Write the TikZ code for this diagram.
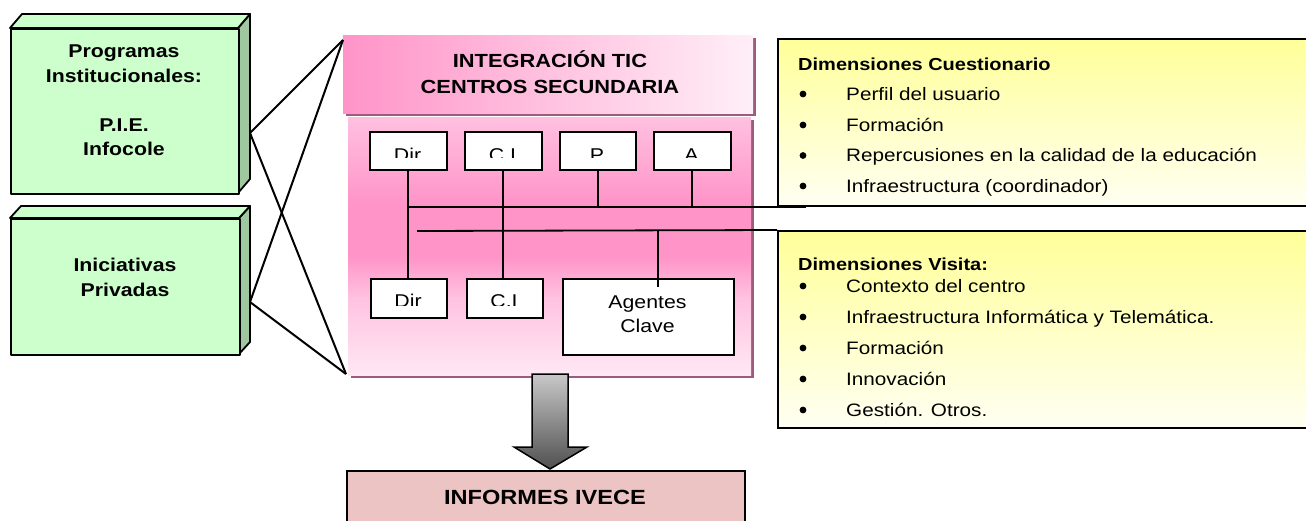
\documentclass[tikz,border=0pt]{standalone}
\usepackage{fontspec}
\setmainfont{Liberation Sans}[FakeStretch=1.15]
\definecolor{greenfront}{HTML}{CCFFCC}
\definecolor{greenside}{HTML}{A0C8A0}
\definecolor{pinkstrong}{HTML}{FF94C8}
\definecolor{pinklight}{HTML}{FFE8F4}
\definecolor{pinkmid}{HTML}{FFC0E0}
\definecolor{mauve}{HTML}{9C5C80}
\definecolor{yellowtop}{HTML}{FFFF99}
\definecolor{yellowbot}{HTML}{FFFFF2}
\definecolor{informes}{HTML}{ECC4C4}
\definecolor{arrowtop}{HTML}{C8C8C8}
\definecolor{arrowbot}{HTML}{505050}
\pgfdeclareverticalshading{pinkmainshade}{100bp}{color(0bp)=(pinklight); color(25bp)=(pinklight); color(40bp)=(pinkstrong!45!pinklight); color(48bp)=(pinkstrong); color(58bp)=(pinkstrong); color(75bp)=(pinkmid); color(100bp)=(pinkmid)}
\tikzset{
  gface/.style={fill=greenfront,draw=black,line width=1.8pt,line join=round},
  gside/.style={fill=greenside,draw=black,line width=1.8pt,line join=round},
  gtext/.style={font=\bfseries\fontsize{18.5}{24.5}\selectfont,align=center,anchor=base,inner sep=0pt},
  sbox/.style={draw=black,fill=white,line width=1.6pt,anchor=north west,inner sep=0pt},
  stext/.style={font=\fontsize{18.5}{24}\selectfont,anchor=base,inner sep=0pt,align=center},
  ybox/.style={draw=black,line width=1.5pt,top color=yellowtop,bottom color=yellowbot,anchor=north west,inner sep=0pt},
  yhead/.style={font=\bfseries\fontsize{17.4}{20}\selectfont,anchor=base west,inner sep=0pt},
  yitem/.style={font=\fontsize{18}{20}\selectfont,anchor=base west,inner sep=0pt},
  wire/.style={draw=black,line width=1.8pt},
  link/.style={draw=black,line width=2pt},
}
\begin{document}
\begin{tikzpicture}[x=1pt,y=-1pt]
\useasboundingbox (0,0) rectangle (1306,520);
\clip (0,0) rectangle (1306,520);

% ---------- green box 1 ----------
\path[gside] (238,28) -- (250,14) -- (250,179) -- (238,193) -- cycle;
\path[gface] (10,28) -- (22,14) -- (250,14) -- (238,28) -- cycle;
\node[gface,anchor=north west,minimum width=228pt,minimum height=165pt,inner sep=0pt] (g1) at (10,28) {};
\node[gtext] (g1t) at (124,155.5) {Programas\\Institucionales:\\[24.5pt]P.I.E.\\Infocole};
\coordinate (g1r) at (250,133);

% ---------- green box 2 ----------
\path[gside] (239,218) -- (250,206) -- (250,342) -- (239,354) -- cycle;
\path[gface] (10,218) -- (21,206) -- (250,206) -- (239,218) -- cycle;
\node[gface,anchor=north west,minimum width=229pt,minimum height=136pt,inner sep=0pt] (g2) at (10,218) {};
\node[gtext] (g2t) at (125,296) {Iniciativas\\Privadas};
\coordinate (g2r) at (250,302);

% ---------- pink header ----------
\fill[mauve] (346,38) rectangle (756,116);
\node[anchor=north west,minimum width=410pt,minimum height=78pt,inner sep=0pt,
      left color=pinkstrong,right color=pinklight!70!white] (hdr) at (343,35) {};
\node[gtext,font=\bfseries\fontsize{19}{26}\selectfont] (hdrt) at (550,93) {INTEGRACIÓN TIC\\CENTROS SECUNDARIA};

% ---------- pink main ----------
\fill[mauve] (351,120) rectangle (754,378);
\node[anchor=north west,minimum width=403pt,minimum height=258pt,inner sep=0pt,
      shading=pinkmainshade] (main) at (348,117) {};

\coordinate (pTL) at (343,40);
\coordinate (pBL) at (346,374);

% links from green boxes
\draw[link] (g1r) -- (pTL);
\draw[link] (g1r) -- (pBL);
\draw[link] (g2r) -- (pTL);
\draw[link] (g2r) -- (pBL);

% ---------- yellow boxes ----------
\node[ybox,minimum width=560pt,minimum height=167pt] (y1) at (777,38) {};
\node[ybox,minimum width=560pt,minimum height=197pt] (y2) at (777,230) {};

\node[yhead] (y1h) at (798,70) {Dimensiones Cuestionario};
\foreach \t/\yy [count=\i] in {Perfil del usuario/100, Formación/131, Repercusiones en la calidad de la educación/161.5, Infraestructura (coordinador)/192}{
  \fill (803,\yy-6) circle (3.4pt);
  \node[yitem] (y1i\i) at (846,\yy) {\t};
}
\node[yhead] (y2h) at (798,270.5) {Dimensiones Visita:};
\foreach \t/\yy [count=\i] in {Contexto del centro/292, Infraestructura Informática y Telemática./323, Formación/354, Innovación/385, Gestión. Otros./416}{
  \fill (803,\yy-6) circle (3.4pt);
  \node[yitem] (y2i\i) at (846,\yy) {\t};
}

% ---------- small boxes ----------
\node[sbox,minimum width=77pt,minimum height=38pt] (dir1) at (369,131) {};
\node[sbox,minimum width=77pt,minimum height=38pt] (ci1) at (464,131) {};
\node[sbox,minimum width=76pt,minimum height=38pt] (p1) at (559,131) {};
\node[sbox,minimum width=77pt,minimum height=38pt] (a1) at (653,131) {};
\node[sbox,minimum width=76pt,minimum height=39pt] (dir2) at (370,278) {};
\node[sbox,minimum width=76pt,minimum height=39pt] (ci2) at (466,278) {};
\node[sbox,minimum width=171pt,minimum height=76pt] (ag) at (562,278) {};

\begin{scope}
  \clip (369,131) rectangle (731,157.5);
  \node[stext] (dir1t) at (407.5,161.5) {Dir};
  \node[stext] (ci1t) at (502.5,161.5) {C.I};
  \node[stext] (p1t) at (597,161.5) {P};
  \node[stext] (a1t) at (691.5,161.5) {A};
\end{scope}
\begin{scope}
  \clip (370,278) rectangle (543,305);
  \node[stext] (dir2t) at (408,307.5) {Dir};
  \node[stext] (ci2t) at (504,307.5) {C.I};
\end{scope}
\node[stext] (agt) at (647.5,332.5) {Agentes\\Clave};

% ---------- wiring ----------
\coordinate (bus1end) at (806,207);
\coordinate (bus2start) at (417,231);
\coordinate (agtop) at (658,287);
\draw[wire] (dir1.south) -- (dir1.south |- dir2.north);
\draw[wire] (ci1.south) -- (ci1.south |- ci2.north);
\draw[wire] (dir1.south |- bus1end) -- (bus1end);
\draw[wire] (p1.south) -- (p1.south |- bus1end);
\draw[wire] (a1.south) -- (a1.south |- bus1end);
\draw[wire] (bus2start) -- (y2.north west);
\draw[wire] (agtop |- bus2start) -- (agtop);

% ---------- arrow ----------
\coordinate (arrtop) at (550,374);
\shadedraw[top color=arrowtop,bottom color=arrowbot,draw=black,line width=1.5pt,line join=miter]
  (532,374) -- (568,374) -- (568,447) -- (587,447) -- (550,469) -- (514,447) -- (532,447) -- cycle;

% ---------- informes ----------
\node[anchor=north west,minimum width=398pt,minimum height=80pt,inner sep=0pt,
      fill=informes,draw=black,line width=1.5pt] (inf) at (346,470) {};
\node[gtext,font=\bfseries\fontsize{20.5}{24}\selectfont] (inft) at (545,504) {INFORMES IVECE};
\end{tikzpicture}
\end{document}
